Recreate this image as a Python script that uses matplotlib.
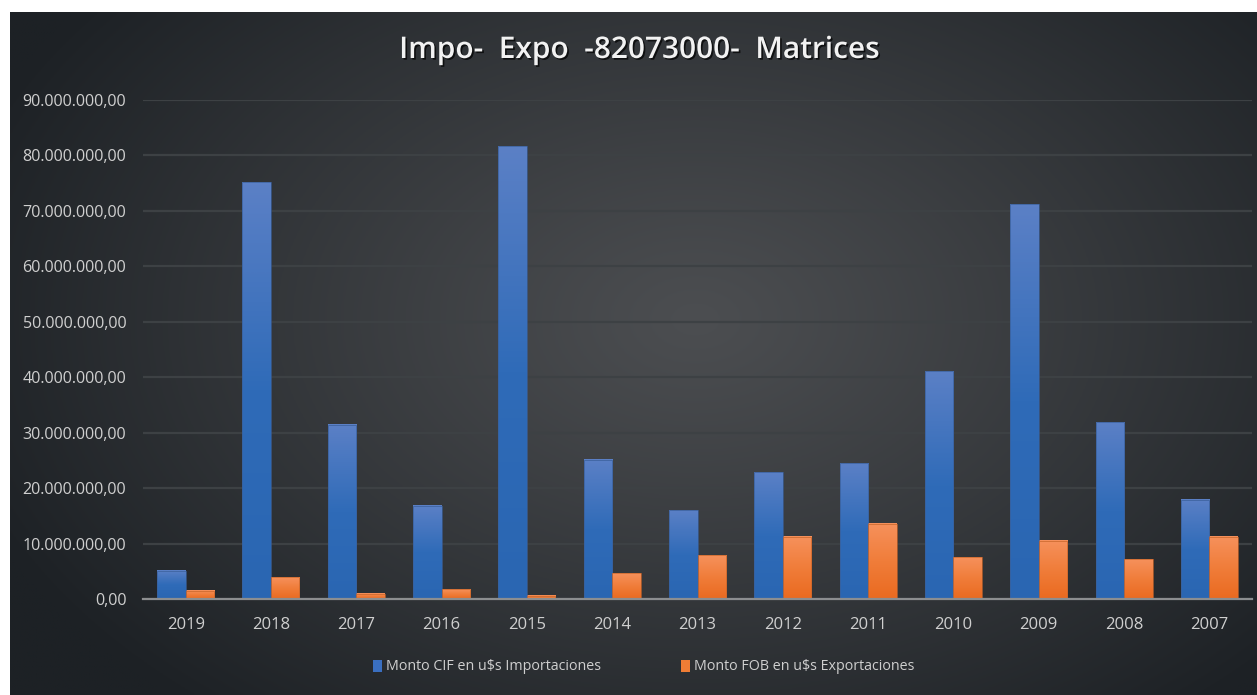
import matplotlib
matplotlib.use("Agg")
import matplotlib.pyplot as plt
import matplotlib.patheffects as pe
import numpy as np
from matplotlib.colors import LinearSegmentedColormap, to_rgb
from matplotlib.patches import Patch
from matplotlib.ticker import FuncFormatter, MultipleLocator

years = ["2019", "2018", "2017", "2016", "2015", "2014", "2013",
         "2012", "2011", "2010", "2009", "2008", "2007"]
# millones de u$s
imports_cif = [5.1, 75.2, 31.4, 16.8, 81.7, 25.1, 16.0, 22.9, 24.5, 41.1, 71.2, 31.9, 17.9]
exports_fob = [1.5, 3.9, 0.95, 1.8, 0.6, 4.6, 7.9, 11.2, 13.6, 7.5, 10.5, 7.2, 11.2]
labels = ["Monto CIF en u$s Importaciones", "Monto FOB en u$s Exportaciones"]
title = "Impo-  Expo  -82073000-  Matrices"

FONT = "Open Sans"
W, H = 1257, 695

fig = plt.figure(figsize=(W / 100, H / 100), dpi=100, facecolor="white")

# dark radial background (white strip on top and left as in the screenshot)
bg = fig.add_axes([10 / W, 0, 1 - 10 / W, 1 - 12 / H])
bg.set_axis_off()
gx, gy = np.meshgrid(np.linspace(0, 1, 400), np.linspace(0, 1, 250))
d = np.sqrt(((gx - 0.55) / 0.62) ** 2 + ((gy - 0.45) / 0.75) ** 2)
d = np.clip(d, 0, 1) ** 1.1
c_in, c_out = np.array(to_rgb("#4c4e51")), np.array(to_rgb("#1d2125"))
img = c_in[None, None, :] * (1 - d[..., None]) + c_out[None, None, :] * d[..., None]
bg.imshow(img, aspect="auto", extent=[0, 1, 0, 1], origin="upper")
bg.set_xlim(0, 1)
bg.set_ylim(0, 1)

ax = fig.add_axes([143 / W, 1 - 599 / H, (1252 - 143) / W, (599 - 100) / H])
ax.patch.set_alpha(0)

x = np.arange(len(years))
w = 0.334
blue_cmap = LinearSegmentedColormap.from_list("b", ["#2a66b2", "#2f6bb8", "#5b80c6"])
orange_cmap = LinearSegmentedColormap.from_list("o", ["#ea6a20", "#f07d3a", "#f6915c"])
grad = np.linspace(1, 0, 128).reshape(-1, 1)

for vals, offset, cmap, edge in [(imports_cif, -w / 2, blue_cmap, "#3a5f99"),
                                 (exports_fob, w / 2, orange_cmap, "#c8652a")]:
    bars = ax.bar(x + offset, np.array(vals) * 1e6, w, color="none",
                  edgecolor=edge, linewidth=0.5, zorder=4)
    for b in bars:
        x0, y0 = b.get_x(), b.get_y()
        ax.imshow(grad, cmap=cmap, aspect="auto", zorder=3, interpolation="bilinear",
                  extent=[x0, x0 + b.get_width(), y0, y0 + b.get_height()])

ax.set_xlim(-0.5, len(years) - 0.5)
ax.set_ylim(0, 90e6)
ax.yaxis.set_major_locator(MultipleLocator(10e6))
ax.yaxis.set_major_formatter(FuncFormatter(
    lambda v, p: f"{v:,.2f}".replace(",", "X").replace(".", ",").replace("X", ".")))
ax.set_xticks(x)
ax.set_xticklabels(years)
ax.grid(axis="y", color="#3d4144", linewidth=1.6, zorder=1)
ax.set_axisbelow(True)
for s in ["top", "right", "left"]:
    ax.spines[s].set_visible(False)
ax.spines["bottom"].set_color("#8c8e90")
ax.spines["bottom"].set_linewidth(1.6)
ax.spines["bottom"].set_zorder(5)
ax.tick_params(axis="y", length=0, pad=12, labelsize=11.6, labelcolor="#cfcfcf")
ax.tick_params(axis="x", length=0, pad=13, labelsize=12, labelcolor="#cfcfcf")
for t in ax.get_xticklabels() + ax.get_yticklabels():
    t.set_family(FONT)

fig.text(0.509, 1 - 50 / H, title, ha="center", va="center", color="#f2f2f2",
         fontsize=21.5, fontweight=600, family=FONT,
         path_effects=[pe.SimplePatchShadow(offset=(1.2, -1.2), shadow_rgbFace="black", alpha=0.7),
                       pe.Normal()])

handles = [Patch(facecolor="#3a6fc0", edgecolor="none"), Patch(facecolor="#f07d35", edgecolor="none")]
leg = fig.legend(handles, labels, loc="center", bbox_to_anchor=(0.512, 1 - 667 / H), ncol=2,
                 frameon=False, handlelength=0.6, handleheight=0.9, handletextpad=0.3,
                 columnspacing=5.6, prop={"family": FONT, "size": 10.3})
for t in leg.get_texts():
    t.set_color("#cfcfcf")

fig.savefig("out.png", dpi=100, facecolor="white")
